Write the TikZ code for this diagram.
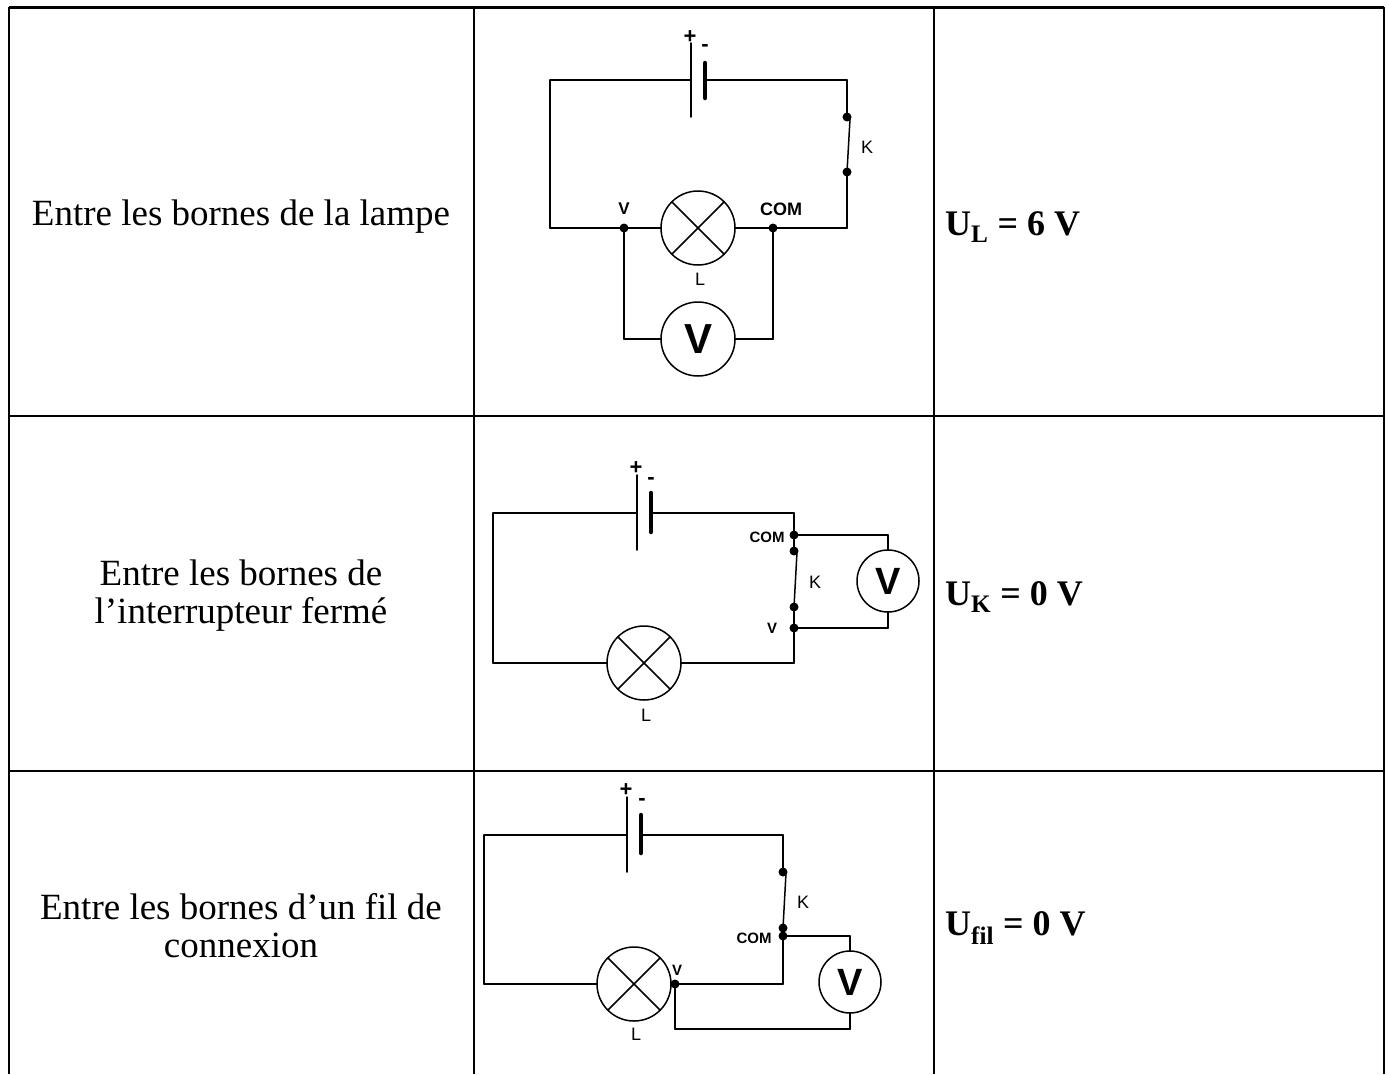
\documentclass[tikz,border=0pt]{standalone}
\usepackage{fontspec}
\setmainfont{Liberation Serif}
\setsansfont{Liberation Sans}
\usepackage{tkz-euclide}

\tikzset{
  fil/.style={line width=1.5pt},
  plaque/.style={line width=4.5pt},
  lampe/.style={circle,draw,line width=1.5pt,minimum size=74pt,inner sep=0pt,
    path picture={\draw[line width=1.5pt]
      (path picture bounding box.north west) -- (path picture bounding box.south east)
      (path picture bounding box.north east) -- (path picture bounding box.south west);}},
  voltm/.style={circle,draw,line width=1.5pt,minimum size=#1,inner sep=0pt,
    font=\sffamily\bfseries\fontsize{42}{42}\selectfont},
  lettre/.style={inner sep=0pt,font=\sffamily\fontsize{18}{18}\selectfont},
  borne/.style={inner sep=0pt,font=\sffamily\bfseries\fontsize{#1}{#1}\selectfont},
  texte/.style={inner sep=0pt,align=center,font=\fontsize{37}{38}\selectfont},
  mesure/.style={inner sep=0pt,anchor=base west,font=\bfseries\fontsize{36}{36}\selectfont},
  grille/.style={line width=2pt}
}

\begin{document}
\begin{tikzpicture}[x=1pt,y=-1pt]
\useasboundingbox (0,0) rectangle (1389,1074);
\draw[line width=3pt] (9,7) -- (1384,7);
\draw[grille] (9,7) -- (9,1074) (474,7) -- (474,1074) (934,7) -- (934,1074) (1384,7) -- (1384,1074)
  (9,416) -- (1384,416) (9,771) -- (1384,771);

\node[texte] (t1) at (241,217) {Entre les bornes de la lampe};
\node[texte] (t2) at (241,596) {Entre les bornes de\\l’interrupteur fermé};
\node[texte] (t3) at (241,926) {Entre les bornes d’un fil de\\connexion};
\node[mesure] (u1) at (945,235) {U\textsubscript{L} = 6 V};
\node[mesure] (u2) at (945,605) {U\textsubscript{K} = 0 V};
\node[mesure] (u3) at (945,935) {U\textsubscript{fil} = 0 V};

\tkzDefPoints{550/80/A1, 847/80/B1, 847/228/C1, 550/228/D1, 691/80/E1, 705/80/F1,
  691/43/G1, 691/117/H1, 705/63/I1, 705/98/J1, 847/117/K1, 847/172/M1, 850/119/N1,
  698/228/L1, 661/228/P1, 735/228/Q1, 624/228/S1, 773/228/T1,
  698/339/V1, 661/339/W1, 735/339/X1, 624/339/Y1, 773/339/Z1}
\tkzDrawSegments[fil](A1,E1 F1,B1 G1,H1 B1,K1 N1,M1 M1,C1 C1,Q1 P1,D1 D1,A1 S1,Y1 Y1,W1 X1,Z1 Z1,T1)
\tkzDrawSegments[plaque](I1,J1)
\node[lampe] (lampe1) at (L1) {};
\node[voltm=74pt] (volt1) at (V1) {V};
\fill (S1) circle[radius=4.5] (T1) circle[radius=4.5] (K1) circle[radius=4.5] (M1) circle[radius=4.5];
\node[borne=22] (plus1) at (690,37) {+};
\node[borne=22] (moins1) at (705,48) {-};
\node[lettre] (k1) at (867,147) {K};
\node[lettre] (l1) at (700,279) {L};
\node[borne=17] (v1) at (624,209) {V};
\node[borne=18] (com1) at (781,209) {COM};

\tkzDefPoints{493/513/A2, 794/513/B2, 794/663/C2, 493/663/D2, 637/513/E2, 651/513/F2,
  637/475/G2, 637/550/H2, 651/493/I2, 651/532/J2, 794/551/K2, 794/607/M2, 797/552/N2,
  644/663/L2, 607/663/P2, 681/663/Q2, 794/628/S2, 794/535/T2,
  888/581/V2, 888/550/W2, 888/612/X2, 888/535/Y2, 888/628/Z2}
\tkzDrawSegments[fil](A2,E2 F2,B2 G2,H2 B2,K2 N2,M2 M2,C2 C2,Q2 P2,D2 D2,A2 T2,Y2 Y2,W2 X2,Z2 Z2,S2)
\tkzDrawSegments[plaque](I2,J2)
\node[lampe] (lampe2) at (L2) {};
\node[voltm=62pt,font=\sffamily\bfseries\fontsize{38}{38}\selectfont] (volt2) at (V2) {V};
\fill (S2) circle[radius=4.5] (T2) circle[radius=4.5] (K2) circle[radius=4.5] (M2) circle[radius=4.5];
\node[borne=22] (plus2) at (636,468) {+};
\node[borne=22] (moins2) at (651,481) {-};
\node[lettre] (k2) at (815,582) {K};
\node[lettre] (l2) at (646,715) {L};
\node[borne=15] (v2) at (772,628) {V};
\node[borne=15] (com2) at (767,537) {COM};

\tkzDefPoints{484/835/A3, 783/835/B3, 783/984/C3, 484/984/D3, 627/835/E3, 641/835/F3,
  627/797/G3, 627/872/H3, 641/815/I3, 641/853/J3, 783/872/K3, 783/928/M3, 786/873/N3,
  634/984/L3, 597/984/P3, 671/984/Q3, 675/984/S3, 783/936/T3,
  850/982/V3, 850/951/W3, 850/1013/X3, 850/936/Y3, 850/1029/Z3, 675/1029/R3}
\tkzDrawSegments[fil](A3,E3 F3,B3 G3,H3 B3,K3 N3,M3 M3,C3 C3,Q3 P3,D3 D3,A3 T3,Y3 Y3,W3 X3,Z3 Z3,R3 R3,S3)
\tkzDrawSegments[plaque](I3,J3)
\node[lampe] (lampe3) at (L3) {};
\node[voltm=62pt,font=\sffamily\bfseries\fontsize{38}{38}\selectfont] (volt3) at (V3) {V};
\fill (S3) circle[radius=4.5] (T3) circle[radius=4.5] (K3) circle[radius=4.5] (M3) circle[radius=4.5];
\node[borne=22] (plus3) at (626,790) {+};
\node[borne=22] (moins3) at (642,802) {-};
\node[lettre] (k3) at (803,902) {K};
\node[lettre] (l3) at (636,1034) {L};
\node[borne=15] (v3) at (677,970) {V};
\node[borne=15] (com3) at (754,938) {COM};
\end{tikzpicture}
\end{document}
